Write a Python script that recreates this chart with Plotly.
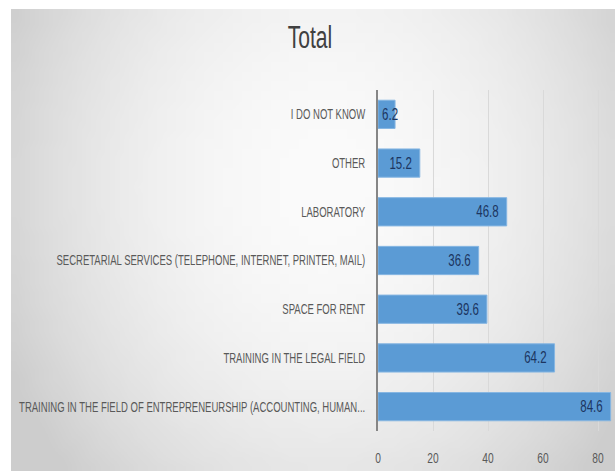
import base64
import struct
import zlib

import plotly.graph_objects as go

# ---- data ----
categories = [
    "I DO NOT KNOW",
    "OTHER",
    "LABORATORY",
    "SECRETARIAL SERVICES (TELEPHONE, INTERNET, PRINTER, MAIL)",
    "SPACE FOR RENT",
    "TRAINING IN THE LEGAL FIELD",
    "TRAINING IN THE FIELD OF ENTREPRENEURSHIP (ACCOUNTING, HUMAN...",
]
values = [6.2, 15.2, 46.8, 36.6, 39.6, 64.2, 84.6]
tick_vals = [0, 20, 40, 60, 80]
title_text = "Total"

# ---- geometry ----
W, H = 615, 471
ML, MR, MT, MB = 378, 3, 90, 40
PW, PH = W - ML - MR, H - MT - MB

FONT = "Liberation Sans, Arial, sans-serif"
SQUEEZE = 0.68      # the reference text is horizontally condensed
BAR_SQUEEZE = 0.72


def gradient_png(w=64, h=48):
    rows = b""
    for j in range(h):
        row = bytearray([0])
        for i in range(w):
            x = i / (w - 1)
            y = j / (h - 1)
            r2 = ((x - 0.52) / 0.5) ** 2 + ((y - 0.38) / 0.8) ** 2
            v = int(max(205, min(251, 251 - 33 * r2)))
            row.append(v)
        rows += bytes(row)

    def chunk(tag, data):
        c = struct.pack(">I", len(data)) + tag + data
        return c + struct.pack(">I", zlib.crc32(tag + data) & 0xFFFFFFFF)

    png = b"\x89PNG\r\n\x1a\n"
    png += chunk(b"IHDR", struct.pack(">IIBBBBB", w, h, 8, 0, 0, 0, 0))
    png += chunk(b"IDAT", zlib.compress(rows, 9))
    png += chunk(b"IEND", b"")
    return "data:image/png;base64," + base64.b64encode(png).decode()


# background image spans pixel area x 11..615, y 9..471
bg_x0, bg_y0 = 11, 9
img = dict(
    source=gradient_png(),
    xref="paper", yref="paper",
    x=(bg_x0 - ML) / PW,
    y=(H - MB - bg_y0) / PH,
    sizex=(W - bg_x0) / PW,
    sizey=(H - bg_y0) / PH,
    xanchor="left", yanchor="top",
    sizing="stretch",
    layer="below",
)

fig = go.Figure(
    go.Bar(
        x=values,
        y=categories,
        orientation="h",
        marker=dict(color="#5b9bd5", line=dict(color="#86b6e2", width=1)),
        text=[f"{v:.1f}" for v in values],
        textposition="auto",
        insidetextanchor="end",
        textangle=0,
        constraintext="none",
        textfont=dict(family=FONT, size=16, color="#1c3560"),
        width=0.58,
        cliponaxis=False,
    )
)

fig.update_layout(
    width=W,
    height=H,
    margin=dict(l=ML, r=MR, t=MT, b=MB, autoexpand=False),
    paper_bgcolor="white",
    plot_bgcolor="rgba(0,0,0,0)",
    images=[img],
    showlegend=False,
    title=dict(
        text=title_text,
        x=0.504,
        xanchor="center",
        y=1 - 37 / H,
        yanchor="middle",
        font=dict(family=FONT, size=31, color="#404040"),
    ),
    xaxis=dict(
        range=[0, PW / 2.75],
        tickvals=tick_vals,
        showgrid=True,
        gridcolor="#d9d9d9",
        gridwidth=1,
        zeroline=False,
        showline=False,
        ticks="",
        automargin=False,
        ticklabelstandoff=16,
        tickfont=dict(family=FONT, size=15, color="#595959"),
    ),
    yaxis=dict(
        autorange="reversed",
        showline=True,
        linecolor="#868686",
        linewidth=2,
        showgrid=False,
        ticks="",
        automargin=False,
        ticklabelstandoff=8,
        tickfont=dict(family=FONT, size=14, color="#595959"),
    ),
)

post = """
var gd = document.getElementById('{plot_id}');
function squeeze(t, f) {
  var w = t.getComputedTextLength();
  if (w > 0) {
    t.setAttribute('textLength', (w * f).toFixed(2));
    t.setAttribute('lengthAdjust', 'spacingAndGlyphs');
  }
}
var barTexts = new Set();
gd.querySelectorAll('g.point').forEach(function(g){
  var p = g.querySelector('path');
  var t = g.querySelector('text');
  if (!t || !p) return;
  barTexts.add(t);
  var pr = p.getBoundingClientRect();
  var tr = t.getBoundingClientRect();
  var tb = t.getBBox();
  var outside = tr.left >= pr.right - 1;
  squeeze(t, %(bs)s);
  if (outside) {
    t.setAttribute('text-anchor', 'start');
    t.setAttribute('x', (tb.x - 16).toFixed(2));
  } else {
    t.setAttribute('text-anchor', 'end');
    t.setAttribute('x', (tb.x + tb.width - 5).toFixed(2));
  }
});
gd.querySelectorAll('text').forEach(function(t){
  if (!t.textContent || barTexts.has(t)) return;
  squeeze(t, %(s)s);
});
""" % {"s": SQUEEZE, "bs": BAR_SQUEEZE}

fig.write_html("out.html", post_script=post)
